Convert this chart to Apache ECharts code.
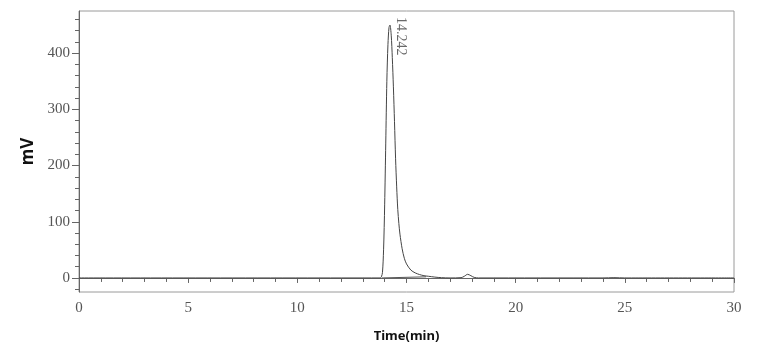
<!DOCTYPE html>
<html><head><meta charset="utf-8">
<script src="https://cdn.jsdelivr.net/npm/echarts@6/dist/echarts.min.js"></script>
<style>html,body{margin:0;padding:0;background:#fff}#c{width:778px;height:348px}</style>
</head><body><div id="c"></div>
<script>
// Chromatogram signal (time in min, signal in mV)
var times = [0, 13.8, 13.85, 13.9, 13.95, 14.0, 14.05, 14.1, 14.15, 14.2, 14.242, 14.3, 14.35, 14.4, 14.45, 14.5, 14.55, 14.6, 14.65, 14.7, 14.8, 14.9, 15.0, 15.2, 15.4, 15.6, 15.8, 16.0, 16.3, 16.6, 17.0, 17.5, 17.65, 17.8, 17.95, 18.1, 18.3, 24.0, 24.5, 25.0, 30];
var signal = [0, 0, 2, 10, 50, 130, 240, 350, 415, 446, 450, 432, 392, 340, 278, 212, 162, 122, 97, 78, 52, 35, 25, 14, 9, 6, 4, 3, 1.5, 0.5, 0, 0.5, 3, 6.5, 4, 1, 0, 0, 0.5, 0, 0];
// Integration baseline under main peak
var baseTimes = [13.88, 15.9];
var baseValues = [0, 2];
// Peak annotation
var peakTime = 14.242;
var peakValue = 450;
var peakLabel = '14.242';
// Axis ticks
var yMajor = [0, 100, 200, 300, 400];
var yMinor = [-20, 0, 20, 40, 60, 80, 100, 120, 140, 160, 180, 200, 220, 240, 260, 280, 300, 320, 340, 360, 380, 400, 420, 440, 460];

var lineData = times.map(function (t, i) { return [t, signal[i]]; });
var baseData = baseTimes.map(function (t, i) { return [t, baseValues[i]]; });

var serif = 'Liberation Serif';
var axisCol = '#666';
var chart = echarts.init(document.getElementById('c'), null, {renderer: 'canvas'});
chart.setOption({
  animation: false,
  grid: {left: 79, right: 44, top: 11, bottom: 55, show: true, borderColor: '#9a9a9a', borderWidth: 1},
  xAxis: {
    type: 'value', min: 0, max: 30, interval: 5,
    name: 'Time(min)', nameLocation: 'middle', nameGap: 38,
    nameTextStyle: {fontFamily: 'Noto Sans', fontWeight: 'bold', fontSize: 13, color: '#111'},
    axisLine: {show: true, lineStyle: {color: axisCol, width: 1}},
    axisTick: {show: true, length: 5, lineStyle: {color: axisCol}},
    minorTick: {show: true, splitNumber: 5, length: 4, lineStyle: {color: axisCol}},
    axisLabel: {fontFamily: serif, fontSize: 15, color: '#555', margin: 9},
    splitLine: {show: false}
  },
  yAxis: [{
    type: 'value', min: -25, max: 475,
    name: 'mV', nameLocation: 'middle', nameGap: 40, nameRotate: 90,
    nameTextStyle: {fontFamily: 'Noto Sans', fontWeight: 'bold', fontSize: 17, color: '#111'},
    axisLine: {show: true, lineStyle: {color: axisCol, width: 1}},
    axisTick: {show: true, length: 7, customValues: yMajor, lineStyle: {color: axisCol}},
    axisLabel: {customValues: yMajor, fontFamily: serif, fontSize: 15, color: '#555', margin: 9},
    splitLine: {show: false}
  }, {
    type: 'value', min: -25, max: 475, position: 'left',
    axisLine: {show: false},
    axisTick: {show: true, length: 4, customValues: yMinor, lineStyle: {color: axisCol}},
    axisLabel: {show: false},
    splitLine: {show: false}
  }],
  series: [{
    type: 'line', data: lineData, showSymbol: false, smooth: 0.3,
    lineStyle: {color: '#444', width: 1}, z: 3
  }, {
    type: 'line', data: baseData, showSymbol: false,
    lineStyle: {color: '#555', width: 1}, z: 2
  }, {
    type: 'scatter', data: [[peakTime, peakValue]], symbolSize: 0,
    label: {show: true, formatter: peakLabel, rotate: -90, position: [11, -8],
            align: 'left', verticalAlign: 'middle',
            fontFamily: serif, fontSize: 14, color: '#444'}
  }]
});
</script></body></html>
